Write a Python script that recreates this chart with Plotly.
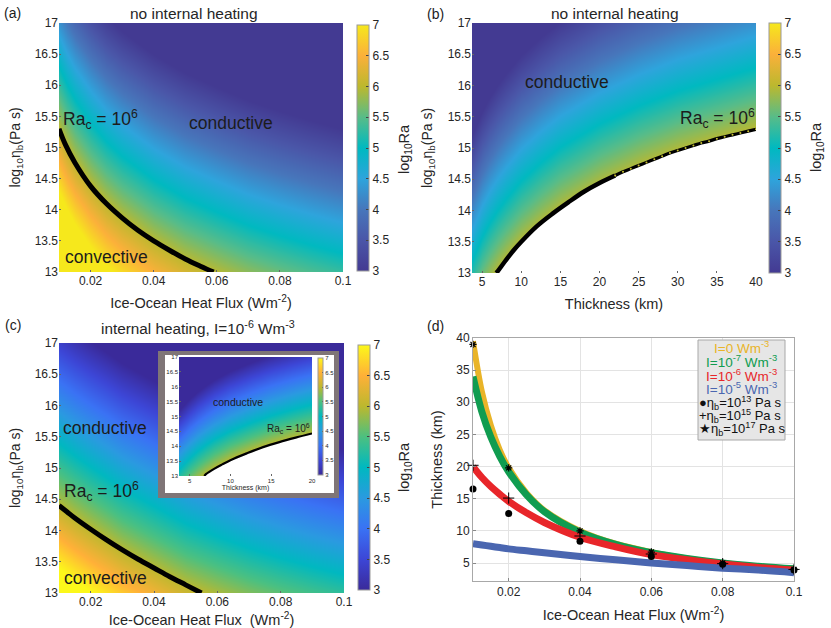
import plotly.graph_objects as go

W, H = 831, 628

# (a) no internal heating, log10 Ra on flux / viscosity grid
flux = [0.01, 0.0125, 0.015, 0.02, 0.025, 0.03, 0.04, 0.05, 0.06, 0.07, 0.08, 0.09, 0.1]
visc = [13, 14, 15, 16, 17]
a_z = [
    [8.3, 8.01, 7.77, 7.4, 7.11, 6.87, 6.49, 6.2, 5.97, 5.76, 5.59, 5.44, 5.3],
    [7.3, 7.01, 6.77, 6.4, 6.11, 5.87, 5.49, 5.2, 4.97, 4.76, 4.59, 4.44, 4.3],
    [6.3, 6.01, 5.77, 5.4, 5.11, 4.87, 4.49, 4.2, 3.97, 3.76, 3.59, 3.44, 3.3],
    [5.3, 5.01, 4.77, 4.4, 4.11, 3.87, 3.49, 3.2, 2.97, 2.76, 2.59, 2.44, 2.3],
    [4.3, 4.01, 3.77, 3.4, 3.11, 2.87, 2.49, 2.2, 1.97, 1.76, 1.59, 1.44, 1.3],
]
a_curve_q = [0.01, 0.012, 0.015, 0.02, 0.025, 0.03, 0.035, 0.04, 0.045, 0.05, 0.055, 0.059]
a_curve_v = [15.3, 15.05, 14.76, 14.38, 14.1, 13.87, 13.67, 13.5, 13.35, 13.21, 13.09, 13.0]

# (b) no internal heating, thickness / viscosity
thick = [3.7, 5, 6, 7, 8, 10, 12.5, 15, 20, 25, 30, 40]
b_z = [
    [5.2, 5.59, 5.83, 6.03, 6.2, 6.49, 6.78, 7.02, 7.4, 7.69, 7.93, 8.3],
    [4.2, 4.59, 4.83, 5.03, 5.2, 5.49, 5.78, 6.02, 6.4, 6.69, 6.93, 7.3],
    [3.2, 3.59, 3.83, 4.03, 4.2, 4.49, 4.78, 5.02, 5.4, 5.69, 5.93, 6.3],
    [2.2, 2.59, 2.83, 3.03, 3.2, 3.49, 3.78, 4.02, 4.4, 4.69, 4.93, 5.3],
    [1.2, 1.59, 1.83, 2.03, 2.2, 2.49, 2.78, 3.02, 3.4, 3.69, 3.93, 4.3],
]
b_curve_h = [6.8, 7, 8, 9, 10, 12, 14, 16, 18, 20, 22, 24, 26, 28, 30, 32, 34, 36, 38, 40]
b_curve_v = [13.0, 13.03, 13.2, 13.36, 13.5, 13.75, 13.95, 14.13, 14.3, 14.44, 14.56, 14.67,
             14.77, 14.87, 14.96, 15.04, 15.11, 15.18, 15.24, 15.3]
b_dots_h = [22, 23, 24, 25, 26, 27, 28, 29, 30, 31, 32, 33, 34, 35, 36, 37, 38, 39, 40]
b_dots_v = [14.56, 14.62, 14.67, 14.72, 14.77, 14.82, 14.87, 14.92, 14.96, 15.0, 15.04, 15.08,
            15.11, 15.15, 15.18, 15.21, 15.24, 15.27, 15.3]

# (c) internal heating
c_z = [
    [7.4, 7.3, 7.2, 7.02, 6.85, 6.68, 6.4, 6.12, 5.92, 5.73, 5.57, 5.43, 5.3],
    [6.4, 6.3, 6.2, 6.02, 5.85, 5.68, 5.4, 5.12, 4.92, 4.73, 4.57, 4.43, 4.3],
    [5.4, 5.3, 5.2, 5.02, 4.85, 4.68, 4.4, 4.12, 3.92, 3.73, 3.57, 3.43, 3.3],
    [4.4, 4.3, 4.2, 4.02, 3.85, 3.68, 3.4, 3.12, 2.92, 2.73, 2.57, 2.43, 2.3],
    [3.4, 3.3, 3.2, 3.02, 2.85, 2.68, 2.4, 2.12, 1.92, 1.73, 1.57, 1.43, 1.3],
]
c_curve_q = [0.01, 0.0125, 0.015, 0.02, 0.025, 0.03, 0.035, 0.04, 0.045, 0.05, 0.055]
c_curve_v = [14.4, 14.3, 14.2, 14.02, 13.85, 13.69, 13.54, 13.4, 13.26, 13.13, 13.0]

# inset of (c)
ins_thick = [3.7, 5, 6, 7, 8, 10, 12.5, 15, 17.5, 20]
ins_z = [
    [5.23, 5.62, 5.86, 6.06, 6.24, 6.53, 6.82, 7.06, 7.26, 7.43],
    [4.23, 4.62, 4.86, 5.06, 5.24, 5.53, 5.82, 6.06, 6.26, 6.43],
    [3.23, 3.62, 3.86, 4.06, 4.24, 4.53, 4.82, 5.06, 5.26, 5.43],
    [2.23, 2.62, 2.86, 3.06, 3.24, 3.53, 3.82, 4.06, 4.26, 4.43],
    [1.23, 1.62, 1.86, 2.06, 2.24, 2.53, 2.82, 3.06, 3.26, 3.43],
]
ins_curve_h = [6.8, 7, 8, 9, 10, 12, 14, 16, 18, 20]
ins_curve_v = [13.0, 13.06, 13.24, 13.39, 13.53, 13.76, 13.97, 14.14, 14.29, 14.43]

# (d) thickness against flux
d_q = [0.01, 0.0125, 0.015, 0.0175, 0.02, 0.025, 0.03, 0.04, 0.05, 0.06, 0.07, 0.08, 0.09, 0.1]
d_i0 = [39.5, 31.6, 26.4, 22.6, 19.8, 15.9, 13.2, 10, 8, 6.7, 5.7, 5, 4.45, 4.1]
d_i7 = [34, 28.5, 24.6, 21.6, 19.2, 15.6, 13, 9.8, 7.9, 6.6, 5.7, 5, 4.5, 4.1]
d_i6 = [20, 18.3, 16.9, 15.7, 14.6, 12.8, 11.3, 9, 7.5, 6.3, 5.5, 4.85, 4.3, 3.9]
d_i5 = [8, 7.8, 7.6, 7.4, 7.2, 6.9, 6.6, 6, 5.5, 5, 4.6, 4.2, 3.9, 3.5]
pts_q = [0.01, 0.02, 0.04, 0.06, 0.08, 0.1]
pts_13 = [16.5, 12.7, 8.4, 6.0, 4.8, 3.9]
pts_15 = [20.2, 15.1, 9.2, 6.4, 4.9, 4.0]
pts_17 = [39, 19.8, 10, 6.7, 5, 4]

# colormaps
scale_ab = [[0, "#433a92"], [0.125, "#4a56a8"], [0.25, "#4776bb"], [0.375, "#2ea4dc"], [0.5, "#00b9c0"],
            [0.625, "#58bc88"], [0.75, "#bcb82e"], [0.875, "#fbb03a"], [1, "#f6e81c"]]
scale_c = [[0, "#3a2a9a"], [0.125, "#3c46d6"], [0.25, "#3a72f4"], [0.375, "#2a9ae0"], [0.5, "#00b8c0"],
           [0.625, "#4cc080"], [0.75, "#bcb82e"], [0.875, "#ffb038"], [1, "#fcf81a"]]

INK = "#262626"
FONT = "Liberation Sans, Arial, sans-serif"


def dom_x(x0, x1):
    return [x0 / W, x1 / W]


def dom_y(y0, y1):
    return [1 - y1 / H, 1 - y0 / H]


def cbar(x0, x1, y0, y1, size=12, ticklen=3):
    return dict(x=x0 / W, xanchor="left", thickness=x1 - x0, xpad=0, ypad=0,
                y=1 - y1 / H, yanchor="bottom", len=(y1 - y0) / H, lenmode="fraction",
                tickmode="array", tickvals=[3, 3.5, 4, 4.5, 5, 5.5, 6, 6.5, 7],
                ticktext=["3", "3.5", "4", "4.5", "5", "5.5", "6", "6.5", "7"],
                ticks="inside", ticklen=ticklen, tickcolor="#444", outlinecolor="#9a9a9a", outlinewidth=1,
                tickfont=dict(size=size, color=INK, family=FONT))


fig = go.Figure()

fig.add_trace(go.Heatmap(x=flux, y=visc, z=a_z, zmin=3, zmax=7, zsmooth="best", colorscale=scale_ab,
                         colorbar=cbar(357, 369, 25, 271), xaxis="x", yaxis="y"))
fig.add_trace(go.Scatter(x=a_curve_q, y=a_curve_v, mode="lines", cliponaxis=False,
                         line=dict(color="black", width=5, shape="spline"),
                         xaxis="x", yaxis="y", showlegend=False))

fig.add_trace(go.Heatmap(x=thick, y=visc, z=b_z, zmin=3, zmax=7, zsmooth="best", colorscale=scale_ab,
                         colorbar=cbar(769, 781, 23, 273), xaxis="x2", yaxis="y2"))
# white region under the Ra=10^6 curve
fig.add_trace(go.Scatter(x=b_curve_h + [40, 6.8], y=b_curve_v + [13, 13], mode="lines", fill="toself",
                         fillcolor="white", line=dict(color="white", width=0),
                         xaxis="x2", yaxis="y2", showlegend=False))
fig.add_trace(go.Scatter(x=b_curve_h[:11], y=b_curve_v[:11], mode="lines",
                         line=dict(color="black", width=4.5, shape="spline"),
                         xaxis="x2", yaxis="y2", showlegend=False))
fig.add_trace(go.Scatter(x=b_dots_h, y=b_dots_v, mode="lines+markers", line=dict(color="black", width=3.2, shape="spline"),
                         marker=dict(size=2, color="#c8c030"),
                         xaxis="x2", yaxis="y2", showlegend=False))

fig.add_trace(go.Heatmap(x=flux, y=visc, z=c_z, zmin=3, zmax=7, zsmooth="best", colorscale=scale_c,
                         colorbar=cbar(358, 370, 345, 590), xaxis="x3", yaxis="y3"))
fig.add_trace(go.Scatter(x=c_curve_q, y=c_curve_v, mode="lines", cliponaxis=False,
                         line=dict(color="black", width=5, shape="spline"),
                         xaxis="x3", yaxis="y3", showlegend=False))

# inset frame lives on its own hidden axes, in picture pixels, below the inset axes
frame_x = [158, 339, 339, 158, 158]
frame_y = [351, 351, 498, 498, 351]
mat_x = [165, 334, 334, 165, 165]
mat_y = [355, 355, 493, 493, 355]
fig.add_trace(go.Scatter(x=frame_x, y=frame_y, mode="lines", fill="toself", fillcolor="#7f7577",
                         line=dict(width=0), xaxis="x4", yaxis="y4", showlegend=False))
fig.add_trace(go.Scatter(x=mat_x, y=mat_y, mode="lines", fill="toself", fillcolor="white",
                         line=dict(width=0), xaxis="x4", yaxis="y4", showlegend=False))

fig.add_trace(go.Heatmap(x=ins_thick, y=visc, z=ins_z, zmin=3, zmax=7, zsmooth="best", colorscale=scale_c,
                         colorbar=cbar(318, 323, 358, 475, size=6, ticklen=1), xaxis="x5", yaxis="y5"))
fig.add_trace(go.Scatter(x=ins_curve_h + [20, 6.8], y=ins_curve_v + [13, 13], mode="lines", fill="toself",
                         fillcolor="white", line=dict(color="white", width=0),
                         xaxis="x5", yaxis="y5", showlegend=False))
fig.add_trace(go.Scatter(x=ins_curve_h, y=ins_curve_v, mode="lines",
                         line=dict(color="black", width=2.2, shape="spline"),
                         xaxis="x5", yaxis="y5", showlegend=False))

# (d) lines and points
for vals, col, wid in [(d_i0, "#e9b428", 6), (d_i7, "#109c50", 7), (d_i6, "#e8262a", 7), (d_i5, "#4a66b0", 7)]:
    fig.add_trace(go.Scatter(x=d_q, y=vals, mode="lines", line=dict(color=col, width=wid, shape="spline"),
                             xaxis="x6", yaxis="y6", showlegend=False, cliponaxis=False))
fig.add_trace(go.Scatter(x=pts_q, y=pts_13, mode="markers", marker=dict(symbol="circle", size=7, color="black"),
                         xaxis="x6", yaxis="y6", showlegend=False, cliponaxis=False))
fig.add_trace(go.Scatter(x=pts_q, y=pts_15, mode="markers",
                         marker=dict(symbol="cross-thin", size=8, line=dict(color="black", width=1)),
                         xaxis="x6", yaxis="y6", showlegend=False, cliponaxis=False))
fig.add_trace(go.Scatter(x=pts_q, y=pts_17, mode="markers",
                         marker=dict(symbol="asterisk", size=6, line=dict(color="black", width=1.2)),
                         xaxis="x6", yaxis="y6", showlegend=False, cliponaxis=False))

tickfont = dict(size=12, color=INK, family=FONT)
titlefont = dict(size=14.5, color=INK, family=FONT)
visc_font = dict(size=14, color=INK, family=FONT)
flux_ticks = [0.02, 0.04, 0.06, 0.08, 0.1]
visc_ticks = [13, 13.5, 14, 14.5, 15, 15.5, 16, 16.5, 17]
visc_text = ["13", "13.5", "14", "14.5", "15", "15.5", "16", "16.5", "17"]
visc_title = "log<sub>10</sub>η<sub>b</sub>(Pa s)"
flux_title = "Ice-Ocean Heat Flux (Wm<sup>-2</sup>)"


def x_axis(d, rng, ticks, title, anchor, standoff=10, font=tickfont, tfont=titlefont, **kw):
    return dict(domain=d, range=rng, tickmode="array", tickvals=ticks, ticktext=[f"{t:g}" for t in ticks],
                anchor=anchor, showgrid=False, zeroline=False, ticks="inside", ticklen=2, tickcolor="#666",
                tickfont=font, title=dict(text=title, font=tfont, standoff=standoff), showline=False, **kw)


def y_axis(d, title, anchor, standoff=10, font=tickfont, tfont=visc_font, **kw):
    return dict(domain=d, range=[13, 17], tickmode="array", tickvals=visc_ticks, ticktext=visc_text,
                anchor=anchor, showgrid=False, zeroline=False, ticks="inside", ticklen=2, tickcolor="#666",
                tickfont=font, title=dict(text=title, font=tfont, standoff=standoff), showline=False, **kw)


small_tick = dict(size=6, color=INK, family=FONT)
small_title = dict(size=7, color=INK, family=FONT)

layout = dict(
    width=W, height=H, autosize=False, margin=dict(l=0, r=0, t=0, b=0, autoexpand=False),
    paper_bgcolor="white", plot_bgcolor="white", showlegend=False, font=dict(family=FONT, color=INK),
    xaxis=x_axis(dom_x(59, 343), [0.01, 0.1], flux_ticks, flux_title, "y"),
    yaxis=y_axis(dom_y(23, 272), visc_title, "x"),
    xaxis2=x_axis(dom_x(472, 756), [3.7, 40], [5, 10, 15, 20, 25, 30, 35, 40], "Thickness (km)", "y2"),
    yaxis2=y_axis(dom_y(23, 273), visc_title, "x2", standoff=11),
    xaxis3=x_axis(dom_x(59, 344), [0.01, 0.1], flux_ticks, "Ice-Ocean Heat Flux  (Wm<sup>-2</sup>)", "y3", standoff=6),
    yaxis3=y_axis(dom_y(343, 593), visc_title, "x3"),
    xaxis4=dict(domain=dom_x(158, 339), range=[158, 339], visible=False, anchor="y4"),
    yaxis4=dict(domain=dom_y(351, 498), range=[498, 351], visible=False, anchor="x4"),
    xaxis5=x_axis(dom_x(179, 312), [3.7, 20], [5, 10, 15, 20], "Thickness (km)", "y5", standoff=2,
                  font=small_tick, tfont=small_title),
    yaxis5=y_axis(dom_y(357, 476), "", "x5", font=small_tick, tfont=small_title),
    xaxis6=dict(domain=dom_x(473, 794), range=[0.01, 0.1], tickmode="array", tickvals=pts_q[1:],
                ticktext=[f"{t:g}" for t in pts_q[1:]], anchor="y6", showgrid=True, gridcolor="#e3e3e3",
                zeroline=False, ticks="inside", ticklen=3, tickcolor="#888", tickfont=tickfont, mirror=True,
                showline=True, linecolor="#a8a8a8", linewidth=1,
                title=dict(text=flux_title, font=titlefont, standoff=11)),
    yaxis6=dict(domain=dom_y(338, 581), range=[2.2, 40], tickmode="array", tickvals=list(range(5, 45, 5)),
                anchor="x6", showgrid=True, gridcolor="#e3e3e3", zeroline=False, ticks="inside", ticklen=3,
                tickcolor="#888", tickfont=tickfont, mirror=True, showline=True, linecolor="#a8a8a8", linewidth=1,
                title=dict(text="Thickness (km)", font=titlefont, standoff=10)),
)

layout["shapes"] = [
    dict(type="rect", xref="paper", yref="paper", x0=698 / W, x1=785 / W, y0=1 - 440 / H, y1=1 - 340 / H,
         fillcolor="#e6e6e6", line=dict(color="#a8a8a8", width=1), layer="above"),
]


def note(x, y, text, size=17.5, color="#1c1c1c", anchor="left", angle=0):
    return dict(x=x / W, y=1 - y / H, xref="paper", yref="paper", text=text, showarrow=False, xanchor=anchor,
                yanchor="middle", textangle=angle, font=dict(size=size, color=color, family=FONT))


RAC = "Ra<sub>c</sub> = 10<sup>6</sup>"
notes = [
    note(2, 13, "(a)", 14), note(425, 14, "(b)", 14), note(3, 325, "(c)", 14), note(425, 326, "(d)", 14),
    note(194, 14, "no internal heating", 15.5, INK, "center"),
    note(615, 14, "no internal heating", 15.5, INK, "center"),
    note(198, 327, "internal heating, I=10<sup>-6</sup> Wm<sup>-3</sup>", 15.3, INK, "center"),
    note(187, 123, "conductive"), note(63, 257, "convective"), note(61, 120, RAC),
    note(523, 82, "conductive"), note(678, 118, RAC),
    note(61, 428, "conductive"), note(62, 578, "convective"), note(62, 491, RAC),
    note(211, 402, "conductive", 10.5), note(265, 428, RAC, 10),
    note(405, 149, "log<sub>10</sub>Ra", 14.5, INK, "center", -90),
    note(817, 147, "log<sub>10</sub>Ra", 14.5, INK, "center", -90),
    note(405, 467, "log<sub>10</sub>Ra", 14.5, INK, "center", -90),
    note(741, 347, "I=0 Wm<sup>-3</sup>", 13.5, "#e9b428", "center"),
    note(741, 361, "I=10<sup>-7</sup> Wm<sup>-3</sup>", 13.5, "#109c50", "center"),
    note(741, 375, "I=10<sup>-6</sup> Wm<sup>-3</sup>", 13.5, "#e8262a", "center"),
    note(741, 388, "I=10<sup>-5</sup> Wm<sup>-3</sup>", 13.5, "#4a66b0", "center"),
    note(697, 403, "●η<sub>b</sub>=10<sup>13</sup> Pa s", 13, "#111111"),
    note(697, 416, "+η<sub>b</sub>=10<sup>15</sup> Pa s", 13, "#111111"),
    note(697, 429, "★η<sub>b</sub>=10<sup>17</sup> Pa s", 13, "#111111"),
]
layout["annotations"] = notes

fig.update_layout(**layout)

fig.write_html("out.html", config=dict(displayModeBar=False),
               post_script="document.body.style.margin='0';document.body.style.overflow='hidden';")
